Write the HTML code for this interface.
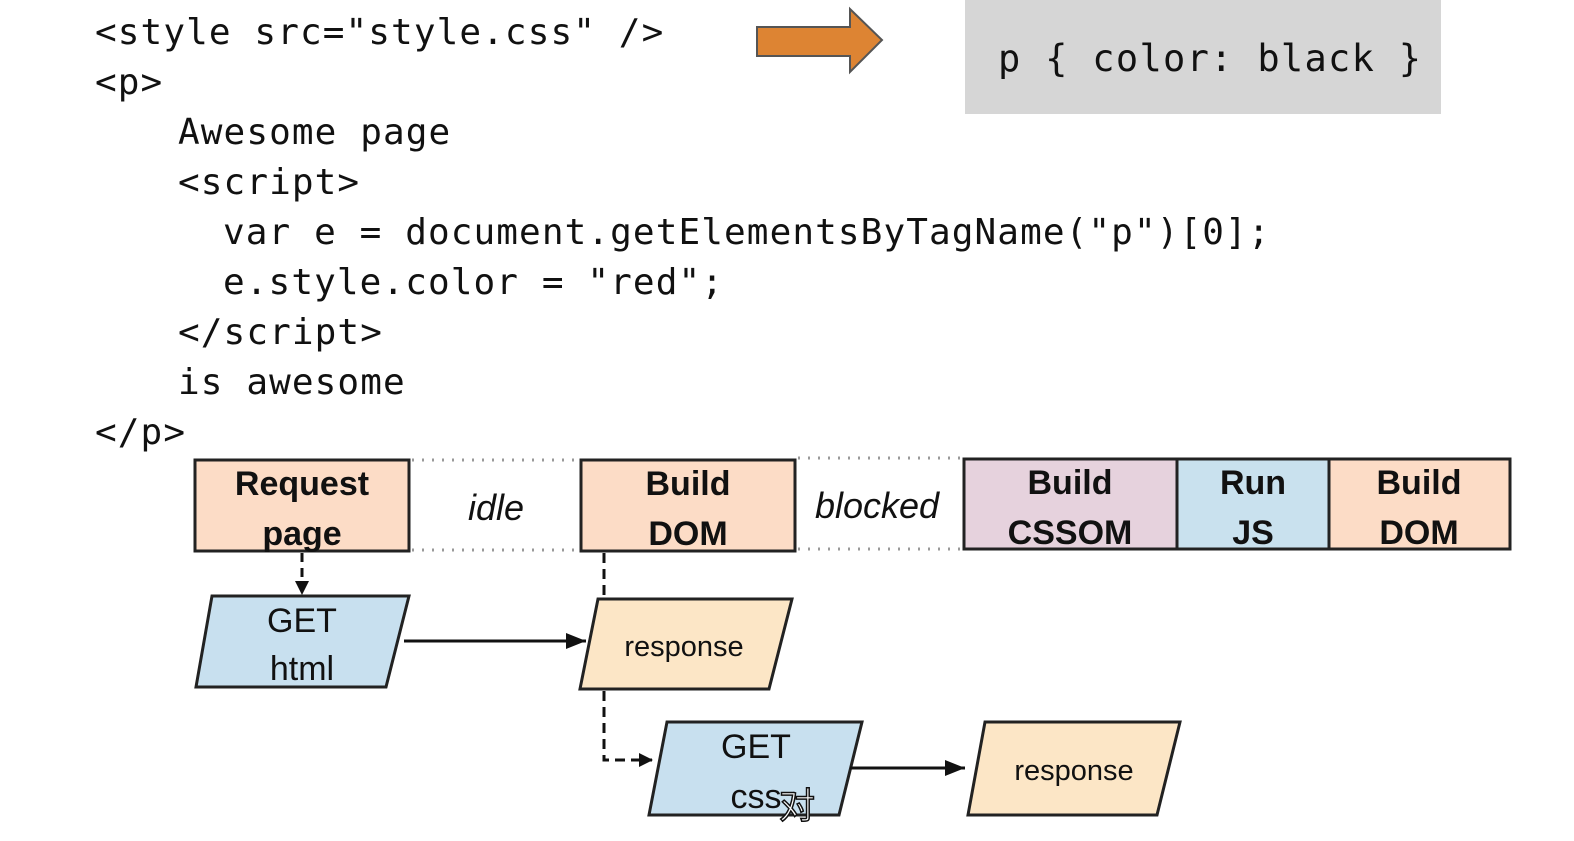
<!DOCTYPE html>
<html><head><meta charset="utf-8"><style>
body{margin:0;background:#fff;width:1574px;height:841px;overflow:hidden;position:relative}
.c{position:absolute;font-family:"DejaVu Sans Mono","Liberation Mono",monospace;font-size:36px;letter-spacing:1.1px;line-height:50px;white-space:pre;color:#111}
</style></head><body>
<div class="c" style="left:95px;top:8px">&lt;style src="style.css" /&gt;</div>
<div class="c" style="left:95px;top:58px">&lt;p&gt;</div>
<div class="c" style="left:178px;top:108px">Awesome page</div>
<div class="c" style="left:178px;top:158px">&lt;script&gt;</div>
<div class="c" style="left:223px;top:208px">var e = document.getElementsByTagName("p")[0];</div>
<div class="c" style="left:223px;top:258px">e.style.color = "red";</div>
<div class="c" style="left:178px;top:308px">&lt;/script&gt;</div>
<div class="c" style="left:178px;top:358px">is awesome</div>
<div class="c" style="left:95px;top:408px">&lt;/p&gt;</div>
<svg width="1574" height="841" style="position:absolute;left:0;top:0" font-family="Liberation Sans, sans-serif">
<defs><marker id="a" markerWidth="14" markerHeight="14" refX="13" refY="7" orient="auto" markerUnits="userSpaceOnUse"><path d="M0,0 L14,7 L0,14z" fill="#111"/></marker>
<marker id="b" markerWidth="20" markerHeight="16" refX="20" refY="8" orient="auto" markerUnits="userSpaceOnUse"><path d="M0,0 L20,8 L0,16z" fill="#111"/></marker></defs>
<path d="M757,27 L850,27 L850,9 L882,40 L850,72 L850,56 L757,56z" fill="#dd8433" stroke="#555" stroke-width="2"/>
<rect x="965" y="0" width="476" height="114" fill="#d6d6d6"/>
<text x="998" y="71" font-family="DejaVu Sans Mono, monospace" font-size="37" letter-spacing="1.3" fill="#111">p { color: black }</text>
<g stroke="#999" stroke-width="3" stroke-dasharray="2,8">
<line x1="412" y1="460" x2="580" y2="460"/><line x1="412" y1="550" x2="580" y2="550"/>
<line x1="798" y1="458" x2="962" y2="458"/><line x1="798" y1="549" x2="962" y2="549"/></g>
<g stroke="#222" stroke-width="3">
<rect x="195" y="460" width="214" height="91" fill="#fcdcc6"/>
<rect x="581" y="460" width="214" height="91" fill="#fcdcc6"/>
<rect x="964" y="459" width="213" height="90" fill="#e6d2dd"/>
<rect x="1177" y="459" width="152" height="90" fill="#c9e1ee"/>
<rect x="1329" y="459" width="181" height="90" fill="#fcdcc6"/>
<path d="M212,596 L409,596 L386,687 L196,687z" fill="#c8e0ef"/>
<path d="M598,599 L792,599 L769,689 L580,689z" fill="#fce6c6"/>
<path d="M667,722 L862,722 L839,815 L649,815z" fill="#c8e0ef"/>
<path d="M985,722 L1180,722 L1157,815 L968,815z" fill="#fce6c6"/>
</g>
<g stroke="#111" stroke-width="3" fill="none">
<line x1="302" y1="553" x2="302" y2="594" stroke-dasharray="9,6" marker-end="url(#a)"/>
<line x1="404" y1="641" x2="586" y2="641" marker-end="url(#b)"/>
<path d="M604,553 L604,598" stroke-dasharray="10,6"/>
<path d="M604,691 L604,760 L652,760" stroke-dasharray="10,6" marker-end="url(#a)"/>
<line x1="850" y1="768" x2="965" y2="768" marker-end="url(#b)"/>
</g>
<g font-weight="bold" font-size="34" text-anchor="middle" fill="#111">
<text x="302" y="495">Request</text><text x="302" y="545">page</text>
<text x="688" y="495">Build</text><text x="688" y="545">DOM</text>
<text x="1070" y="494">Build</text><text x="1070" y="544">CSSOM</text>
<text x="1253" y="494">Run</text><text x="1253" y="544">JS</text>
<text x="1419" y="494">Build</text><text x="1419" y="544">DOM</text>
</g>
<g font-style="italic" font-size="36" text-anchor="middle" fill="#111">
<text x="496" y="520">idle</text><text x="877" y="518">blocked</text></g>
<g font-size="34" text-anchor="middle" fill="#111">
<text x="302" y="632">GET</text><text x="302" y="680">html</text>
<text x="756" y="758">GET</text><text x="756" y="808">css</text></g>
<g font-size="29" text-anchor="middle" fill="#111">
<text x="684" y="656">response</text><text x="1074" y="780">response</text></g>
<text x="797" y="818" font-size="36" text-anchor="middle" font-family="Noto Sans CJK SC, sans-serif" fill="#fff" stroke="#111" stroke-width="1.5">对</text>
</svg>
</body></html>
